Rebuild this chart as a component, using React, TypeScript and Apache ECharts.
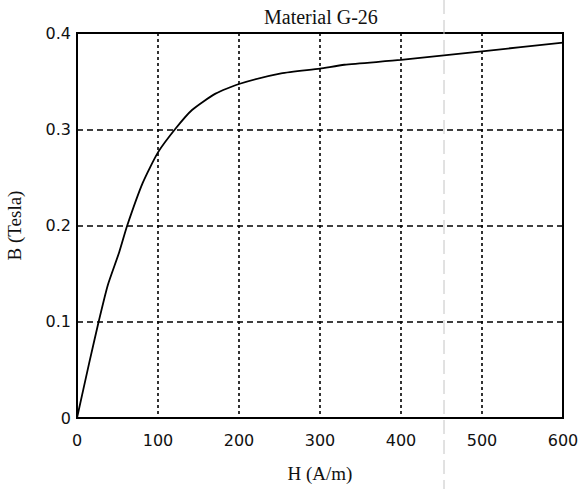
import React, { useEffect, useRef } from "react";
import * as echarts from "echarts";

// Magnetisation (B–H) curve of material G-26
const H_VALUES = [0, 15, 27, 38, 52, 62, 81, 100, 122, 142, 171, 200, 252, 300, 330, 400, 500, 600];
const B_VALUES = [0, 0.057, 0.101, 0.138, 0.172, 0.2, 0.244, 0.276, 0.301, 0.32, 0.337, 0.347, 0.358, 0.363, 0.367, 0.372, 0.381, 0.39];

const X_TICKS = [0, 100, 200, 300, 400, 500, 600];
const Y_TICKS = [0, 0.1, 0.2, 0.3, 0.4];

const TITLE = "Material G-26";
const X_NAME = "H (A/m)";
const Y_NAME = "B (Tesla)";

export default function App() {
  const ref = useRef<HTMLDivElement>(null);

  useEffect(() => {
    if (!ref.current) return;
    const chart = echarts.init(ref.current, undefined, { renderer: "svg" });
    const serif = "'Liberation Serif', 'Times New Roman', serif";
    const sans = "'DejaVu Sans', Verdana, sans-serif";

    chart.setOption({
      animation: false,
      backgroundColor: "#ffffff",
      title: {
        text: TITLE,
        left: 264,
        top: 7,
        padding: 0,
        textStyle: { fontFamily: serif, fontSize: 20, fontWeight: "normal", color: "#111" },
      },
      grid: {
        left: 77,
        right: 23,
        top: 33,
        bottom: 71,
        outerBoundsMode: "none",
        containLabel: false,
        show: true,
        borderColor: "#000",
        borderWidth: 2,
        backgroundColor: "transparent",
      },
      xAxis: {
        type: "value",
        min: X_TICKS[0],
        max: X_TICKS[X_TICKS.length - 1],
        interval: X_TICKS[1] - X_TICKS[0],
        name: X_NAME,
        nameLocation: "middle",
        nameGap: 46,
        nameTextStyle: { fontFamily: serif, fontSize: 19, color: "#111" },
        axisLine: { show: true, lineStyle: { color: "#000", width: 2 } },
        axisTick: { show: false },
        axisLabel: { fontFamily: sans, fontSize: 16, color: "#111", margin: 14 },
        splitLine: {
          show: true,
          showMinLine: false,
          showMaxLine: false,
          lineStyle: { color: "#000", width: 1.6, type: [3, 3] },
        },
      },
      yAxis: {
        type: "value",
        min: Y_TICKS[0],
        max: Y_TICKS[Y_TICKS.length - 1],
        interval: 0.1,
        name: Y_NAME,
        nameLocation: "middle",
        nameGap: 53,
        nameRotate: 90,
        nameTextStyle: { fontFamily: serif, fontSize: 19, color: "#111" },
        axisLine: { show: true, lineStyle: { color: "#000", width: 2 } },
        axisTick: { show: false },
        axisLabel: {
          fontFamily: sans,
          fontSize: 16,
          color: "#111",
          margin: 6,
          formatter: (v: number) => (v === 0 ? "0" : v.toFixed(1)),
        },
        splitLine: {
          show: true,
          showMinLine: false,
          showMaxLine: false,
          lineStyle: { color: "#000", width: 1.6, type: [6, 4] },
        },
      },
      series: [
        {
          type: "line",
          data: H_VALUES.map((h, i) => [h, B_VALUES[i]]),
          smooth: 0.2,
          showSymbol: false,
          lineStyle: { color: "#000", width: 1.8 },
        },
      ],
      graphic: [
        {
          type: "line",
          shape: { x1: 444, y1: 0, x2: 444, y2: 489 },
          style: { stroke: "#c4c4c4", lineWidth: 1, lineDash: [14, 6] },
          silent: true,
          z: 0,
        },
      ],
    });

    return () => chart.dispose();
  }, []);

  return <div ref={ref} style={{ width: 586, height: 489, position: "absolute", left: 0, top: 0 }} />;
}
